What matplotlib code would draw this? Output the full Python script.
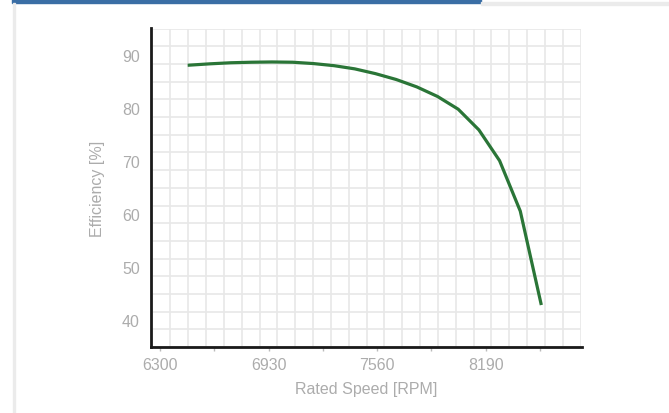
import numpy as np
import matplotlib
matplotlib.use("Agg")
import matplotlib.pyplot as plt
from matplotlib.patches import Rectangle

# efficiency curve
speed = [6470, 6590, 6710, 6830, 6950, 7070, 7190, 7310, 7430, 7550,
         7670, 7790, 7910, 8030, 8150, 8270, 8390, 8510]
efficiency = [88.0, 88.25, 88.45, 88.55, 88.6, 88.55, 88.3, 87.9, 87.3, 86.4,
              85.3, 83.9, 82.1, 79.7, 75.8, 70.0, 60.5, 43.1]

x_ticks = [6300, 6615, 6930, 7245, 7560, 7875, 8190, 8505]
x_labels = ['6300', '', '6930', '', '7560', '', '8190', '']
y_ticks = [40, 50, 60, 70, 80, 90]

W, H = 669, 414
plt.rcParams['font.family'] = ['Liberation Sans', 'DejaVu Sans']
fig = plt.figure(figsize=(W / 100, H / 100), dpi=100, facecolor='w')

# card frame: blue progress bar on top, light grey border
fig.patches.append(Rectangle((12 / W, 1 - 3.5 / H), 469 / W, 3.5 / H,
                             transform=fig.transFigure, color='#3a6ea5', zorder=5))
fig.patches.append(Rectangle((481 / W, 1 - 5.5 / H), (W - 481) / W, 3 / H,
                             transform=fig.transFigure, color='#ebebeb', zorder=5))
fig.patches.append(Rectangle((12.5 / W, 0), 2 / W, 1 - 3.5 / H,
                             transform=fig.transFigure, color='#ebebeb', zorder=5))

# graph paper background, not tied to the axis scale
bg = fig.add_axes([152.5 / W, (H - 348) / H, 428 / W, 318.3 / H], zorder=0)
bg.set_xlim(0, 24)
bg.set_ylim(0, 18)
for i in range(1, 25):
    bg.axvline(i, color='#e8e8e8', lw=1.2)
for j in range(0, 19):
    bg.axhline(j, color='#e8e8e8', lw=1.2)
bg.axis('off')

ax = fig.add_axes([151 / W, (H - 348) / H, 431 / W, 319 / H], zorder=1)
ax.patch.set_alpha(0)
ax.plot(speed, efficiency, color='#2a7537', lw=2.3, solid_joinstyle='miter')

ax.set_xlim(6248, 8748)
ax.set_ylim(34.9, 95)
ax.set_xticks(x_ticks)
ax.set_xticklabels(x_labels)
ax.set_yticks(y_ticks)
ax.tick_params(axis='x', length=3, width=1, color='#bbbbbb', labelcolor='#acacac',
               labelsize=11.5, pad=4)
ax.tick_params(axis='y', length=0, labelcolor='#acacac', labelsize=11.5, pad=8)

for s in ['top', 'right']:
    ax.spines[s].set_visible(False)
for s in ['left', 'bottom']:
    ax.spines[s].set_color('#1a1a1a')
    ax.spines[s].set_linewidth(2)

ax.set_xlabel('Rated Speed [RPM]', color='#acacac', fontsize=11.5, labelpad=7)
ax.set_ylabel('Efficiency [%]', color='#acacac', fontsize=11.5, labelpad=12)

fig.savefig('out.png', dpi=100, facecolor='w')
